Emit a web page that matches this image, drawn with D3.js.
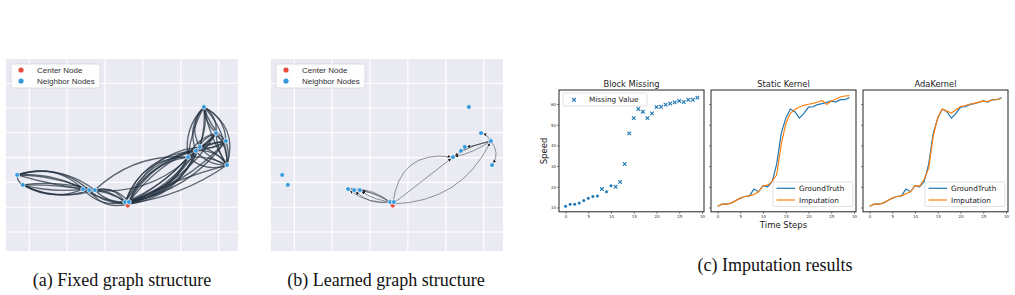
<!DOCTYPE html>
<html>
<head>
<meta charset="utf-8">
<script src="https://cdn.jsdelivr.net/npm/d3@7"></script>
<style>
body { margin: 0; background: #fff; }
</style>
</head>
<body>
<svg id="fig" width="1015" height="295"></svg>
<script>
// ---- graph panels (a) and (b) ----
var nodeX = [4.61, 4.93, 5.19, 4.50, 4.40, 4.19, 5.22, -0.32, -0.17, 1.42, 1.58, 1.73, 2.53, 2.63, 2.60];
var nodeY = [5.04, 3.99, 3.67, 3.43, 3.27, 3.02, 2.70, 2.30, 1.90, 1.73, 1.69, 1.69, 1.21, 1.21, 1.13];
var centerNode = 14;
var gridX = [0, 1, 2, 3, 4, 5];
var gridY = [0, 1, 2, 3, 4, 5, 6, 7];
var legendLabels = ["Center Node", "Neighbor Nodes"];

// [source, target, arc rad]
var fixedEdges = [
  [7, 9, -0.3], [7, 10, -0.28], [7, 11, -0.25], [7, 9, -0.15], [7, 10, -0.1], [7, 11, 0.05],
  [8, 9, 0.25], [8, 10, 0.22], [8, 11, 0.2], [8, 9, 0.1], [8, 10, -0.05], [8, 11, -0.1], [7, 8, 0.3],
  [9, 12, 0.3], [10, 13, 0.25], [11, 12, -0.35], [11, 13, -0.3], [9, 13, 0.15], [10, 12, -0.15],
  [11, 14, 0.2], [9, 14, -0.2], [10, 14, 0.35],
  [11, 5, -0.22], [10, 4, 0.25],
  [12, 5, -0.35], [12, 4, -0.32], [13, 3, -0.3], [14, 5, -0.28], [13, 4, -0.22], [12, 3, -0.18],
  [14, 4, 0.3], [13, 5, 0.28], [14, 3, 0.25], [13, 4, 0.2], [12, 5, 0.12], [14, 5, 0.22],
  [12, 4, -0.25], [14, 3, -0.15], [13, 5, 0.1], [14, 4, 0.15], [12, 3, 0.3], [13, 2, 0.2],
  [13, 1, 0.18], [14, 6, 0.12], [12, 2, 0.15], [13, 6, -0.05],
  [0, 5, 0.25], [0, 4, 0.3], [0, 3, 0.35], [0, 5, 0.1], [0, 6, -0.4], [0, 2, -0.3], [0, 1, -0.3],
  [0, 6, -0.2], [0, 3, -0.1], [0, 4, -0.2], [0, 1, 0.2], [0, 2, 0.15], [0, 6, 0.1],
  [5, 6, 0.3], [4, 6, 0.25], [3, 6, -0.2], [5, 6, -0.15], [3, 6, 0.15], [4, 6, -0.3],
  [3, 1, 0.2], [4, 1, -0.2], [5, 2, -0.15], [4, 2, 0.1], [3, 2, 0.25], [5, 1, -0.25],
  [4, 1, 0.05], [3, 2, -0.05], [5, 1, 0.1],
  [1, 6, -0.2], [2, 6, -0.15], [1, 6, 0.15], [1, 2, 0.3]
];
var learnedEdges = [
  [14, 9, 0.2], [14, 10, 0.15], [14, 11, 0.1], [13, 9, -0.2], [12, 10, -0.25], [13, 11, -0.15],
  [14, 5, -0.5], [14, 5, 0.0], [14, 2, 0.3],
  [2, 5, 0.1], [2, 5, -0.1], [2, 4, 0.05], [2, 3, -0.05], [2, 6, -0.35], [2, 1, 0.2]
];

// ---- imputation panels (c) ----
var timeSteps = [0, 1, 2, 3, 4, 5, 6, 7, 8, 9, 10, 11, 12, 13, 14, 15, 16, 17, 18, 19, 20, 21, 22, 23, 24, 25, 26, 27, 28, 29];
var groundTruth = [10.6, 11.6, 11.6, 12.1, 13.4, 14.5, 15.3, 15.6, 18.9, 17.6, 20.5, 20.0, 22.4, 31.0, 45.8, 53.2, 57.6, 56.3, 53.2, 55.5, 58.5, 58.7, 59.7, 60.2, 60.8, 61.5, 61.0, 62.1, 62.1, 63.1];
var missingSteps = [8, 11, 12, 13, 14, 15, 16, 17, 18, 19, 20, 21, 22, 23, 24, 25, 26, 27, 28, 29];
var staticImputation = [10.6, 11.6, 11.6, 12.1, 13.3, 14.5, 15.3, 15.6, 16.3, 17.6, 20.5, 20.8, 22.6, 25.8, 40.5, 50.5, 55.5, 57.4, 58.6, 59.4, 59.9, 60.3, 61.0, 61.8, 59.8, 61.5, 62.3, 63.4, 63.9, 64.1];
var adaImputation = [10.6, 11.6, 11.6, 12.1, 13.4, 14.5, 15.3, 15.6, 16.6, 17.6, 20.5, 20.3, 23.5, 29.0, 44.5, 53.5, 57.6, 56.6, 55.7, 57.2, 58.8, 59.3, 59.9, 60.3, 60.9, 61.4, 61.2, 62.0, 62.2, 62.7];
var stepTicks = [0, 5, 10, 15, 20, 25, 30];
var speedTicks = [10, 20, 30, 40, 50, 60];
var subTitles = ["Block Missing", "Static Kernel", "AdaKernel"];
var seriesNames = ["GroundTruth", "Imputation"];
var captions = ["(a) Fixed graph structure", "(b) Learned graph structure", "(c) Imputation results"];

var svg = d3.select("#fig");
var blue = "#1f77b4", orange = "#ff7f0e";
var cross = "M-1.8,-1.8L1.8,1.8M-1.8,1.8L1.8,-1.8";

svg.append("defs").append("marker")
   .attr("id", "arrow")
   .attr("viewBox", "0 0 6 6")
   .attr("refX", 6).attr("refY", 3)
   .attr("markerWidth", 3).attr("markerHeight", 3)
   .attr("markerUnits", "userSpaceOnUse")
   .attr("orient", "auto")
   .append("path").attr("d", "M0,0L6,3L0,6Z").attr("fill", "#1b1b1b");

var gx = d3.scaleLinear().domain([-0.615, 5.51]).range([0, 232]),
    gy = d3.scaleLinear().domain([-0.766, 7.016]).range([193, 0]);

function edgePath(e, shrink) {
    var x1 = gx(nodeX[e[0]]), y1 = gy(nodeY[e[0]]),
        x2 = gx(nodeX[e[1]]), y2 = gy(nodeY[e[1]]);
    var dx = x2 - x1, dy = y2 - y1;
    var cx = (x1 + x2) / 2 - e[2] * dy,
        cy = (y1 + y2) / 2 + e[2] * dx;
    if (shrink) {
        var tx = x2 - cx, ty = y2 - cy, l = Math.sqrt(tx * tx + ty * ty) || 1;
        x2 -= tx / l * shrink;
        y2 -= ty / l * shrink;
    }
    return "M" + x1 + "," + y1 + "Q" + cx + "," + cy + " " + x2 + "," + y2;
}

function drawGraph(left, edges, learned) {
    var g = svg.append("g").attr("transform", "translate(" + left + ",58)");
    g.append("rect").attr("width", 232).attr("height", 193).attr("fill", "#eaeaf2");

    g.selectAll(".gv").data(gridX).enter().append("line")
     .attr("x1", gx).attr("x2", gx).attr("y1", 0).attr("y2", 193)
     .attr("stroke", "#fff").attr("stroke-width", 1.1);
    g.selectAll(".gh").data(gridY).enter().append("line")
     .attr("y1", gy).attr("y2", gy).attr("x1", 0).attr("x2", 232)
     .attr("stroke", "#fff").attr("stroke-width", 1.1);

    var paths = g.selectAll(".edge").data(edges).enter().append("path")
     .attr("d", function(e) { return edgePath(e, learned ? 2.5 : 0); })
     .attr("fill", "none");
    if (learned) {
        paths.attr("stroke", "#4a4f55").attr("stroke-opacity", 0.75)
             .attr("stroke-width", 0.8).attr("marker-end", "url(#arrow)");
    } else {
        paths.attr("stroke", "#22313f").attr("stroke-opacity", 0.72)
             .attr("stroke-width", 1.35);
    }

    g.append("circle")
     .attr("cx", gx(nodeX[centerNode])).attr("cy", gy(nodeY[centerNode]) + 1.5)
     .attr("r", 2.4).attr("fill", "#e74c3c").attr("stroke", "#fff").attr("stroke-width", 0.6);

    g.selectAll(".node").data(nodeX.filter(function(d, i) { return i !== centerNode; })
        .map(function(d, i) { return i; }))
     .enter().append("circle")
     .attr("cx", function(i) { return gx(nodeX[i]); })
     .attr("cy", function(i) { return gy(nodeY[i]); })
     .attr("r", 2.4).attr("fill", "#3498db").attr("stroke", "#fff").attr("stroke-width", 0.7);

    // legend
    var lg = g.append("g").attr("transform", "translate(5,6)");
    lg.append("rect").attr("width", 89).attr("height", 24).attr("rx", 2)
      .attr("fill", "#fff").attr("fill-opacity", 0.9).attr("stroke", "#ccc").attr("stroke-width", 0.6);
    lg.selectAll("circle").data(legendLabels).enter().append("circle")
      .attr("cx", 10).attr("cy", function(d, i) { return 6 + i * 11; })
      .attr("r", 2.6).attr("fill", function(d, i) { return i ? "#3498db" : "#e74c3c"; });
    lg.selectAll("text").data(legendLabels).enter().append("text")
      .attr("x", 26).attr("y", function(d, i) { return 9 + i * 11; })
      .attr("font-family", "Liberation Sans, Arial, sans-serif").attr("font-size", "8px")
      .attr("fill", "#333").text(function(d) { return d; });
}

drawGraph(6, fixedEdges, false);
drawGraph(271, learnedEdges, true);

// imputation subplots
var px = d3.scaleLinear().domain([-1.45, 30.45]).range([0, 145]),
    py = d3.scaleLinear().domain([7.9, 66.8]).range([211.8, 90]);
var lefts = [559, 711, 863];
var imputations = [null, staticImputation, adaImputation];
var font = "DejaVu Sans, sans-serif";

lefts.forEach(function(left, k) {
    var g = svg.append("g").attr("transform", "translate(" + left + ",0)");

    var xa = g.append("g").attr("transform", "translate(0,211.8)")
        .call(d3.axisBottom(px).tickValues(stepTicks).tickSize(2).tickPadding(1));
    var ya = g.append("g")
        .call(d3.axisLeft(py).tickValues(speedTicks).tickSize(2).tickPadding(1)
        .tickFormat(function(d) { return k === 0 ? d : ""; }));
    [xa, ya].forEach(function(a) {
        a.select(".domain").remove();
        a.attr("font-size", 4).attr("font-family", font);
        a.selectAll("line").attr("stroke", "#333").attr("stroke-width", 0.6);
        a.selectAll("text").attr("fill", "#333");
    });

    g.append("text").attr("x", 72.5).attr("y", 86.5).attr("text-anchor", "middle")
     .attr("font-family", font).attr("font-size", "8.3px").attr("fill", "#222").text(subTitles[k]);

    if (k === 0) {
        g.selectAll(".obs").data(timeSteps.filter(function(t) { return missingSteps.indexOf(t) < 0; }))
         .enter().append("circle")
         .attr("cx", function(t) { return px(t); })
         .attr("cy", function(t) { return py(groundTruth[t]); })
         .attr("r", 1.5).attr("fill", blue);
        g.selectAll(".mis").data(missingSteps).enter().append("path")
         .attr("transform", function(t) { return "translate(" + px(t) + "," + py(groundTruth[t]) + ")"; })
         .attr("d", cross)
         .attr("stroke", blue).attr("stroke-width", 1.1);

        var ml = g.append("g").attr("transform", "translate(4,93)");
        ml.append("rect").attr("width", 84).attr("height", 13).attr("rx", 1.5)
          .attr("fill", "#fff").attr("stroke", "#ccc").attr("stroke-width", 0.6);
        ml.append("path").attr("transform", "translate(11,6.8)")
          .attr("d", cross)
          .attr("stroke", blue).attr("stroke-width", 1.1);
        ml.append("text").attr("x", 26).attr("y", 9.3)
          .attr("font-family", font).attr("font-size", "7.3px").attr("fill", "#222").text("Missing Value");

        svg.append("text").attr("transform", "translate(546.5,151) rotate(-90)")
           .attr("text-anchor", "middle").attr("font-family", font).attr("font-size", "8.5px")
           .attr("fill", "#222").text("Speed");
    } else {
        var line = d3.line().x(function(d, i) { return px(timeSteps[i]); })
                            .y(function(d) { return py(d); });
        g.append("path").datum(groundTruth).attr("d", line)
         .attr("fill", "none").attr("stroke", blue).attr("stroke-width", 1.2);
        g.append("path").datum(imputations[k]).attr("d", line)
         .attr("fill", "none").attr("stroke", orange).attr("stroke-width", 1.2);

        var lg = g.append("g").attr("transform", "translate(62,182)");
        lg.append("rect").attr("width", 80).attr("height", 24.5).attr("rx", 1.5)
          .attr("fill", "#fff").attr("stroke", "#ccc").attr("stroke-width", 0.6);
        lg.selectAll("line").data(seriesNames).enter().append("line")
          .attr("x1", 3.5).attr("x2", 22).attr("y1", function(d, i) { return 6.3 + i * 11.7; })
          .attr("y2", function(d, i) { return 6.3 + i * 11.7; })
          .attr("stroke", function(d, i) { return i ? orange : blue; }).attr("stroke-width", 1.2);
        lg.selectAll("text").data(seriesNames).enter().append("text")
          .attr("x", 26).attr("y", function(d, i) { return 9.2 + i * 11.7; })
          .attr("font-family", font).attr("font-size", "7.3px").attr("fill", "#222").text(function(d) { return d; });
    }

    g.append("rect").attr("width", 145).attr("height", 121.8).attr("y", 90)
     .attr("fill", "none").attr("stroke", "#222").attr("stroke-width", 1);

    if (k === 1) {
        g.append("text").attr("x", 72.5).attr("y", 227.5).attr("text-anchor", "middle")
         .attr("font-family", font).attr("font-size", "8.5px").attr("fill", "#222").text("Time Steps");
    }
});

// captions
var capPos = [[122, 286], [386, 286], [775, 271]];
svg.selectAll(".cap").data(captions).enter().append("text")
   .attr("x", function(d, i) { return capPos[i][0]; })
   .attr("y", function(d, i) { return capPos[i][1]; })
   .attr("text-anchor", "middle")
   .attr("font-family", "Liberation Serif, Times New Roman, serif")
   .attr("font-size", "18px").attr("fill", "#111")
   .text(function(d) { return d; });
</script>
</body>
</html>
